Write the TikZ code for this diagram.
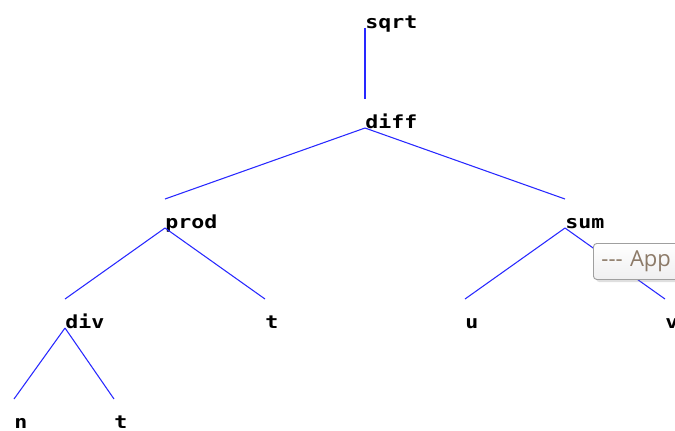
\documentclass[tikz,border=0pt]{standalone}
\usepackage{fontspec}
\newfontfamily\treefont{DejaVu Sans Mono}[FakeStretch=1.2]
\newfontfamily\tipfont{Open Sans}
\usetikzlibrary{shadows}
\definecolor{edgeblue}{RGB}{40,40,255}
\definecolor{tiptext}{RGB}{140,122,104}
\begin{document}
\begin{tikzpicture}[
        x=0.75pt, y=-0.75pt,
        term/.style={anchor=base west, inner sep=0pt, font=\treefont\bfseries\fontsize{13.5}{16}\selectfont},
        edge/.style={edgeblue, line width=0.8pt},
        tip/.style={anchor=north west, draw=gray!75, rounded corners=2.5pt, line width=0.7pt,
            top color=white, bottom color=blue!4!gray!12, minimum height=27pt,
            text=tiptext, font=\tipfont\fontsize{16.5}{18}\selectfont, align=left,
            text width=130pt, inner xsep=6pt, drop shadow={opacity=0.25, shadow xshift=2pt, shadow yshift=-2pt}}
    ]
        \useasboundingbox (0,0) rectangle (675,430);
        \clip (0,0) rectangle (675,430);

        % Terms of the expression
        \node[term] (sqrt) at (365,28) {sqrt};
        \node[term] (diff) at (365,128) {diff};
        \node[term] (prod) at (165,228) {prod};
        \node[term] (sum) at (565,228) {sum};
        \node[term] (div) at (65,328) {div};
        \node[term] (t1) at (265,328) {t};
        \node[term] (u) at (465,328) {u};
        \node[term] (v) at (665,328) {v};
        \node[term] (n) at (14,428) {n};
        \node[term] (t2) at (114,428) {t};

        % Branches
        \draw[edge] (sqrt.base west) -- ([yshift=21.75pt]diff.base west);
        \draw[edge] (diff.base west) -- ([yshift=21.75pt]prod.base west);
        \draw[edge] (diff.base west) -- ([yshift=21.75pt]sum.base west);
        \draw[edge] (prod.base west) -- ([yshift=21.75pt]div.base west);
        \draw[edge] (prod.base west) -- ([yshift=21.75pt]t1.base west);
        \draw[edge] (sum.base west) -- ([yshift=21.75pt]u.base west);
        \draw[edge] (sum.base west) -- ([yshift=21.75pt]v.base west);
        \draw[edge] (div.base west) -- ([yshift=21.75pt]n.base west);
        \draw[edge] (div.base west) -- ([yshift=21.75pt]t2.base west);

        % Tooltip over the sum branch
        \node[tip] (apptip) at (593,243) {-{}-{}- App};
    \end{tikzpicture}
\end{document}
